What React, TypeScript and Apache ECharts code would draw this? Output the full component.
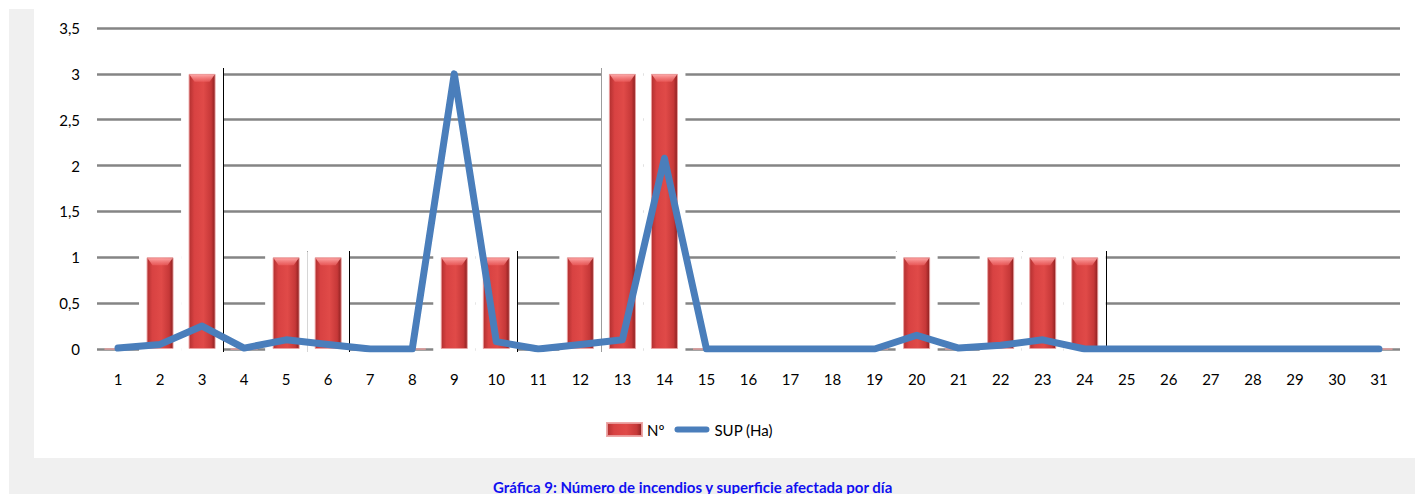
import React, { useEffect, useRef } from "react";
import * as echarts from "echarts";

const days = Array.from({ length: 31 }, (_, i) => String(i + 1));
const fireCounts = [0, 1, 3, 0, 1, 1, 0, 0, 1, 1, 0, 1, 3, 3, 0, 0, 0, 0, 0, 1, 0, 1, 1, 1, 0, 0, 0, 0, 0, 0, 0];
const areaHa = [0.01, 0.05, 0.25, 0.01, 0.1, 0.05, 0, 0, 3, 0.08, 0, 0.05, 0.1, 2.08, 0, 0, 0, 0, 0, 0.15, 0.01, 0.04, 0.1, 0, 0, 0, 0, 0, 0, 0, 0];
// boundaries (after these days) where the original rendering shows thin dark edges
const edgeAfterDays = [3, 5, 6, 10, 12, 19, 22, 24];
const yTicks = [0, 0.5, 1, 1.5, 2, 2.5, 3, 3.5];
const caption = "Gráfica 9: Número de incendios y superficie afectada por día";

const FONT = "Lato, 'Open Sans', sans-serif";
const BAR_W = 27;

export default function App() {
  const ref = useRef<HTMLDivElement>(null);
  useEffect(() => {
    if (!ref.current) return;
    const chart = echarts.init(ref.current, null, { renderer: "svg" });
    const barGradient = new echarts.graphic.LinearGradient(0, 0, 1, 0, [
      { offset: 0, color: "#b23030" },
      { offset: 0.2, color: "#d84242" },
      { offset: 0.55, color: "#e04a48" },
      { offset: 0.85, color: "#c63838" },
      { offset: 1, color: "#8c2020" },
    ]);
    chart.setOption({
      animation: false,
      backgroundColor: "#ffffff",
      graphic: [
        { type: "rect", shape: { x: 9, y: 9, width: 1406, height: 485 }, style: { fill: "#f0f0f0" }, z: -10 },
        { type: "rect", shape: { x: 34, y: 0, width: 1381, height: 458 }, style: { fill: "#ffffff" }, z: -9 },
        {
          type: "text",
          x: 493,
          y: 479,
          style: {
            text: caption,
            fill: "#1010f0",
            font: `bold 15px ${FONT}`,
            textVerticalAlign: "top",
          },
        },
      ],
      grid: { left: 97, right: 15, top: 28, bottom: 145 },
      legend: {
        left: 606,
        top: 422,
        padding: 0,
        itemWidth: 35,
        itemHeight: 13,
        itemGap: 10,
        textStyle: { fontFamily: FONT, fontSize: 15, color: "#000" },
        data: [
          { name: "Nº", icon: "rect" },
          {
            name: "SUP (Ha)",
            icon: "path://M3.5,0 H36.5 A3.5,3.5 0 0 1 36.5,7 H3.5 A3.5,3.5 0 0 1 3.5,0 Z",
          },
        ],
      },
      xAxis: {
        type: "category",
        data: days,
        axisLine: { show: false },
        axisTick: { show: false },
        axisLabel: { margin: 22, fontFamily: FONT, fontSize: 15, color: "#000" },
      },
      yAxis: {
        type: "value",
        min: 0,
        max: 3.5,
        interval: 0.5,
        axisLine: { show: false },
        axisTick: { show: false },
        splitLine: { lineStyle: { color: "#858585", width: 2.6 } },
        axisLabel: {
          margin: 17,
          fontFamily: FONT,
          fontSize: 15,
          color: "#000",
          formatter: (v: number) => (yTicks.includes(v) ? String(v).replace(".", ",") : ""),
        },
      },
      series: [
        {
          type: "custom",
          name: "backdrop",
          silent: true,
          legendHoverLink: false,
          data: fireCounts.map((v, i) => [i, v]),
          renderItem: (params: any, api: any) => {
            const idx = api.value(0);
            const v = api.value(1);
            const band = api.size([1, 0])[0];
            const base = api.coord([idx, 0]);
            const children: any[] = [];
            if (v > 0) {
              const top = api.coord([idx, v]);
              children.push({
                type: "rect",
                shape: { x: base[0] - band / 2, y: top[1] - 6, width: band, height: base[1] - top[1] + 9 },
                style: { fill: "#ffffff" },
              });
            }
            const day = idx + 1;
            if (edgeAfterDays.includes(day)) {
              const h = Math.max(fireCounts[idx] || 0, fireCounts[idx + 1] || 0);
              const top = api.coord([idx, h]);
              const x = Math.round(base[0] + band / 2) + 0.5;
              children.push({
                type: "line",
                shape: { x1: x, y1: Math.round(top[1] - 6), x2: x, y2: Math.round(base[1] + 3) },
                style: { stroke: "#000", lineWidth: 1 },
              });
            }
            return { type: "group", children };
          },
          z: 1,
        },
        {
          type: "bar",
          name: "Nº",
          data: fireCounts,
          barWidth: BAR_W,
          itemStyle: { color: barGradient, borderColor: "rgba(235,160,160,0.9)", borderWidth: 1 },
          z: 3,
        },
        {
          type: "custom",
          name: "bevel",
          silent: true,
          legendHoverLink: false,
          data: fireCounts.map((v, i) => [i, v]),
          renderItem: (params: any, api: any) => {
            const idx = api.value(0);
            const v = api.value(1);
            if (!(v > 0)) return { type: "group", children: [] };
            const top = api.coord([idx, v]);
            const l = top[0] - BAR_W / 2 + 1;
            const r = top[0] + BAR_W / 2 - 1;
            const t = top[1] + 1;
            return {
              type: "polygon",
              shape: { points: [[l, t], [r, t], [r - 5, t + 7], [l + 5, t + 7]] },
              style: {
                fill: new echarts.graphic.LinearGradient(0, 0, 0, 1, [
                  { offset: 0, color: "rgba(255,170,170,0.95)" },
                  { offset: 1, color: "rgba(240,100,100,0.6)" },
                ]),
              },
            };
          },
          z: 3.5,
        },
        {
          type: "line",
          name: "SUP (Ha)",
          data: areaHa,
          symbol: "none",
          color: "#4a7ebb",
          lineStyle: { color: "#4a7ebb", width: 7, cap: "round", join: "round" },
          z: 4,
        },
      ],
    });
    return () => chart.dispose();
  }, []);
  return <div ref={ref} style={{ position: "fixed", left: 0, top: 0, width: 1415, height: 494 }} />;
}
